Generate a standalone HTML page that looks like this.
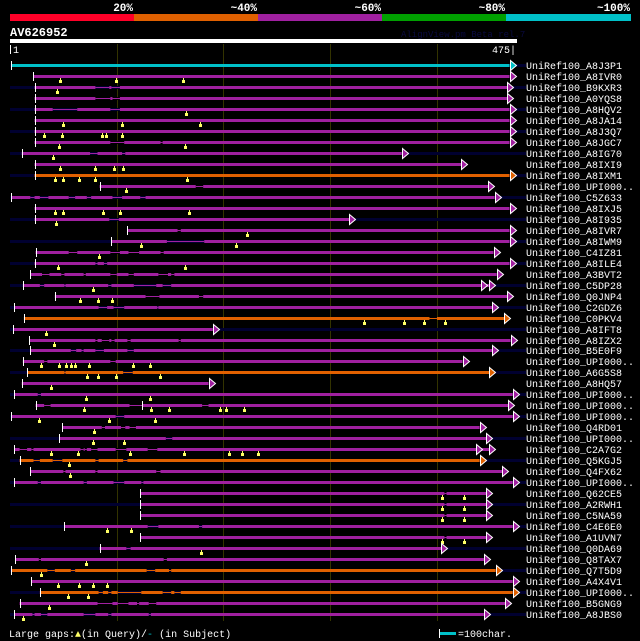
<!DOCTYPE html>
<html><head><meta charset="utf-8">
<style>
html,body{margin:0;padding:0;background:#000;}
#wrap{position:relative;width:640px;height:641px;overflow:hidden;background:#000;}
svg text{font-family:"Liberation Mono","DejaVu Sans Mono",monospace;}
</style></head>
<body>
<div id="wrap">
<svg id="chart" width="640" height="641" viewBox="0 0 640 641">
  <g>
    <rect x="10" y="14" width="124" height="7" fill="#ff0028"/>
    <rect x="134" y="14" width="124" height="7" fill="#e06000"/>
    <rect x="258" y="14" width="124" height="7" fill="#a020a0"/>
    <rect x="382" y="14" width="124" height="7" fill="#00a000"/>
    <rect x="506" y="14" width="125" height="7" fill="#00c0c8"/>
    <text x="133" y="11" fill="#fff" font-size="11" font-weight="bold" text-anchor="end">20%</text>
    <text x="257" y="11" fill="#fff" font-size="11" font-weight="bold" text-anchor="end">~40%</text>
    <text x="381" y="11" fill="#fff" font-size="11" font-weight="bold" text-anchor="end">~60%</text>
    <text x="505" y="11" fill="#fff" font-size="11" font-weight="bold" text-anchor="end">~80%</text>
    <text x="630" y="11" fill="#fff" font-size="11" font-weight="bold" text-anchor="end">~100%</text>
  </g>
  <text x="10" y="36" fill="#fff" font-size="12" font-weight="bold">AV626952</text>
  <text x="401" y="37" fill="#0a0a40" font-size="9">AlignView.pm Beta rel.7</text>
  <rect x="10" y="39" width="507" height="4" fill="#fff"/>
  <rect x="10" y="45" width="1" height="9" fill="#fff"/>
  <text x="13" y="53" fill="#fff" font-size="10">1</text>
  <text x="516" y="53" fill="#fff" font-size="10" text-anchor="end">475|</text>
  <g id="grid"></g>
  <g id="rows"></g>
  <text x="9" y="637" fill="#fff" font-size="10">Large gaps:<tspan fill="#ffff66">▲</tspan>(in Query)/<tspan fill="#00c0c8">-</tspan> (in Subject)</text>
  <rect x="439" y="632" width="17" height="3" fill="#00c0c8"/>
  <rect x="439" y="629" width="1" height="9" fill="#fff"/>
  <text x="458" y="637" fill="#fff" font-size="10">=100char.</text>
</svg>
</div>
<script>
const queryLength = 475;
const gridPositions = [100, 200, 300, 400];
const names = ["A8J3P1","A8IVR0","B9KXR3","A0YQS8","A8HQV2","A8JA14","A8J3Q7","A8JGC7","A8IG70","A8IXI9","A8IXM1","UPI000..","C5Z633","A8IXJ5","A8I935","A8IVR7","A8IWM9","C4IZ81","A8ILE4","A3BVT2","C5DP28","Q0JNP4","C2GDZ6","C0PKV4","A8IFT8","A8IZX2","B5E0F9","UPI000..","A6G5S8","A8HQ57","UPI000..","UPI000..","UPI000..","Q4RD01","UPI000..","C2A7G2","Q5KGJ5","Q4FX62","UPI000..","Q62CE5","A2RWH1","C5NA59","C4E6E0","A1UVN7","Q0DA69","Q8TAX7","Q7T5D9","A4X4V1","UPI000..","B5GNG9","A8JBS0"];
const starts = [1,22,23,23,23,23,23,23,11,23,23,84,1,23,23,110,95,24,23,19,12,42,4,13,3,18,19,12,16,11,4,24,1,49,46,4,9,19,4,122,122,122,51,122,84,5,1,20,28,9,4];
const ends = [468,468,466,466,468,468,468,468,367,423,468,448,454,468,318,468,468,453,468,456,449,466,452,463,190,469,452,424,449,186,471,467,471,440,446,449,440,461,471,446,446,446,471,446,404,444,455,471,471,464,444];
const identityClass = ["cyan","p","p","p","p","p","p","p","p","p","o","p","p","p","p","p","p","p","p","p","p","p","p","o","p","p","p","p","o","p","p","p","p","p","p","p","o","p","p","p","p","p","p","p","p","p","o","p","o","p","p"];
const extraEnds = {20:[441], 35:[437]};
const extraStarts = {31:[124]};
const gapMarks = [[],[47,99,162],[44],[],[165],[50,105,178],[32,49,86,90,105],[46,164],[40],[47,80,97,106],[42,50,65,80,166],[109],[],[42,50,87,103,168],[43],[222],[123,212],[83],[45,164],[],[78],[66,82,96],[],[332,369,388,408],[34],[41],[],[29,46,52,57,61,74,115,131],[72,82,99,141],[38],[71,131],[69,132,149,197,202,219],[27,93,136],[79],[78,107],[38,64,112,163,205,217,232],[55],[56],[],[405,425],[405,425],[405,425],[91,113],[405,425],[179],[71],[29],[45,65,78,91],[54,73],[37],[12]];
const subjectGaps = [[],[],[[80,93],[95,103]],[[80,94],[96,103]],[[40,63],[94,103]],[],[],[[94,107],[141,143]],[[75,82],[105,108]],[],[],[[174,181]],[[19,23],[28,36],[55,61],[72,76],[96,105],[122,127]],[],[[93,102]],[[157,160]],[[147,182]],[[55,63],[94,103],[111,121],[141,144]],[[80,82],[88,91]],[[30,37],[48,51],[69,71],[94,100],[111,116],[139,148],[151,154]],[[28,32],[51,52],[92,95],[116,137],[143,151]],[[127,140],[177,181]],[[83,91],[97,107],[138,139]],[[393,400]],[],[[80,82],[86,93],[95,98],[110,113],[158,160]],[[57,62],[67,69],[80,88],[110,116]],[[32,35],[94,99]],[[51,52],[106,115]],[],[[26,29]],[[32,38],[112,124],[180,186]],[[99,107]],[[86,89],[104,108],[112,118]],[[146,152]],[[9,16],[20,22],[66,69],[70,72],[76,82],[99,109],[129,138]],[[22,28],[40,49],[80,83],[106,110]],[[50,52],[80,82],[137,141]],[[26,29],[69,72],[97,107],[123,125]],[[407,409]],[[407,409]],[[407,409]],[[129,139],[177,180]],[[407,409]],[[109,113]],[[27,29],[144,147]],[[35,42],[57,61],[128,136],[149,151]],[],[[83,87],[92,95],[101,123],[143,151],[154,160]],[[82,96],[101,111],[119,121],[130,137]],[[21,23],[29,35],[69,80],[92,95],[130,132]]];

const NS = "http://www.w3.org/2000/svg";
const X0 = 10, X1 = 517, ROW0 = 65, ROWH = 10.98;
const colorMap = {cyan:"#00c0c8", p:"#a020a0", o:"#e06000"};
function xScale(pos){ return X0 + pos * (X1 - X0) / queryLength; }
function yRow(i){ return ROW0 + i * ROWH; }
function mk(tag, attrs, parent){
  const el = document.createElementNS(NS, tag);
  for (const k in attrs) el.setAttribute(k, attrs[k]);
  parent.appendChild(el);
  return el;
}
const grid = document.getElementById('grid');
gridPositions.forEach(function(p){
  const gx = Math.round(xScale(p)) + 0.5;
  const l = mk('line', {x1:gx, x2:gx, y1:44, y2:621, stroke:'#333300', 'stroke-width':1}, grid);
  
  
});
const rowsG = document.getElementById('rows');
names.forEach(function(nm, i){
  const y = Math.round(yRow(i));
  const col = colorMap[identityClass[i]];
  const g = mk('g', {}, rowsG);
  
  
  if (i % 2 === 0) {
    const bg = mk('rect', {x:10, y:y-1, width:516, height:3, fill:'#000030'}, g);
    
    
  }
  const xs = xScale(starts[i]), xe = xScale(ends[i]);
  const bar = mk('rect', {x:xs, y:y-1, width:xe-xs, height:3, fill:col}, g);
  
  
  subjectGaps[i].forEach(function(gp){
    const a = xScale(gp[0]), b = xScale(gp[1]);
    const blk = mk('rect', {x:a, y:y-1, width:b-a, height:3, fill:(i%2===0?'#000030':'#000')}, g);
    
    
    const gl = mk('rect', {x:a, y:y, width:b-a, height:1, fill:col}, g);
    
    
  });
  const sm = mk('rect', {x:Math.round(xs), y:y-4, width:1, height:9, fill:'#fff'}, g);
  
  
  (extraStarts[i] || []).forEach(function(p){
    const e = mk('rect', {x:Math.round(xScale(p)), y:y-4, width:1, height:9, fill:'#fff'}, g);
    
    
  });
  (extraEnds[i] || []).concat([ends[i]]).forEach(function(p){
    const bx = Math.round(xScale(p));
    const t = mk('polygon', {points:(bx+0.5)+','+(y-4.5)+' '+(bx+6.5)+','+(y+0.5)+' '+(bx+0.5)+','+(y+5.5), fill:col, stroke:'#fff', 'stroke-width':1}, g);
    
    
  });
  gapMarks[i].forEach(function(p){
    const mx = Math.round(xScale(p));
    const s = mk('rect', {x:mx, y:y+2, width:1, height:2, fill:'#ffff66'}, g);
    
    
    const m = mk('rect', {x:mx-1, y:y+4, width:3, height:3, fill:'#ffff66'}, g);
    
    
  });
  const tx = mk('text', {x:526, y:y+4, fill:'#fff', 'font-size':10}, g);
  tx.textContent = 'UniRef100_' + nm;
  
  
});
</script>
</body></html>
